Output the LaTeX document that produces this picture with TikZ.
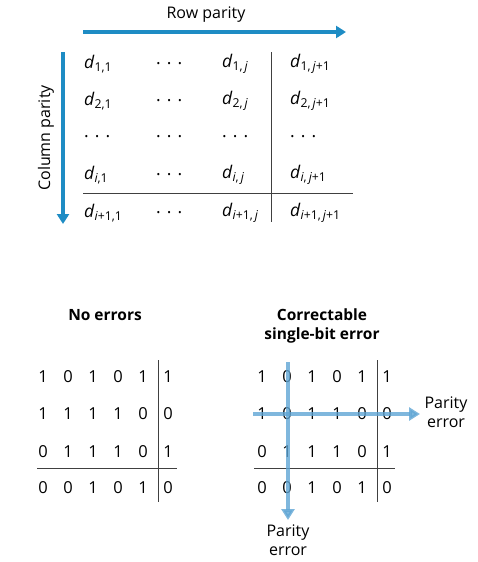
\documentclass[tikz,border=0pt]{standalone}
\usepackage{fontspec}
\setmainfont{Open Sans}
\usetikzlibrary{arrows.meta}
\definecolor{parityblue}{RGB}{30,140,196}
\definecolor{errorblue}{RGB}{95,165,212}
\newcommand{\dd}[1]{\textit{d}\textsubscript{#1}}
\tikzset{
	cell/.style={font=\fontsize{17.5}{20}\selectfont, anchor=west, inner sep=0pt},
	bit/.style={font=\fontsize{16.5}{18}\selectfont},
	caption/.style={font=\bfseries\fontsize{15.5}{19}\selectfont, align=center},
	label/.style={font=\fontsize{16}{19}\selectfont, align=center},
	gridline/.style={line width=0.8pt, color=black!75},
	parityarrow/.style={line width=4pt, color=parityblue, -{Triangle[length=10pt,width=12pt]}},
	errorarrow/.style={line width=4.5pt, color=errorblue, opacity=0.8, -{Triangle[length=11pt,width=13pt]}}
}

\begin{document}
\begin{tikzpicture}[x=1pt, y=-1pt]
		%%%%% START %%%%%
		\useasboundingbox (0, 0) rectangle (477, 562);
		
		% general scheme
		\node[label] (rowtxt) at (206, 15) {Row parity};
		\coordinate (rowA) at (83, 32);
		\coordinate (rowB) at (346, 32);
		\draw[parityarrow] (rowA) -- (rowB);
		
		\node[label, rotate=90] (coltxt) at (46, 138) {Column parity};
		\coordinate (colA) at (63, 52);
		\coordinate (colB) at (63, 224);
		\draw[parityarrow] (colA) -- (colB);
		
		\node[cell] (d11) at (84, 64) {\dd{1,1}};
		\node[cell] (d12) at (156, 64) {. . .};
		\node[cell] (d1j) at (222, 64) {\dd{1,\,\textit{j}}};
		\node[cell] (d1p) at (290, 64) {\dd{1,\,\textit{j}+1}};
		
		\node[cell] (d21) at (84, 101) {\dd{2,1}};
		\node[cell] (d22) at (156, 101) {. . .};
		\node[cell] (d2j) at (222, 101) {\dd{2,\,\textit{j}}};
		\node[cell] (d2p) at (290, 101) {\dd{2,\,\textit{j}+1}};
		
		\node[cell] (d31) at (84, 137) {. . .};
		\node[cell] (d32) at (156, 137) {. . .};
		\node[cell] (d3j) at (222, 137) {. . .};
		\node[cell] (d3p) at (290, 137) {. . .};
		
		\node[cell] (di1) at (84, 175) {\dd{\textit{i},1}};
		\node[cell] (di2) at (156, 175) {. . .};
		\node[cell] (dij) at (222, 175) {\dd{\textit{i},\,\textit{j}}};
		\node[cell] (dip) at (290, 175) {\dd{\textit{i},\,\textit{j}+1}};
		
		\node[cell] (dq1) at (84, 213) {\dd{\textit{i}+1,1}};
		\node[cell] (dq2) at (156, 213) {. . .};
		\node[cell] (dqj) at (222, 213) {\dd{\textit{i}+1,\,\textit{j}}};
		\node[cell] (dqp) at (290, 213) {\dd{\textit{i}+1,\,\textit{j}+1}};
		
		\draw[gridline] (271, 52) -- (271, 222);
		\draw[gridline] (83, 193) -- (353, 193);
		
		% no errors
		\node[caption] (noerr) at (105, 315) {No errors};
		\foreach \y/\row in {377/{1,0,1,0,1,1}, 414/{1,1,1,1,0,0}, 452/{0,1,1,1,0,1}, 488/{0,0,1,0,1,0}} {
			\foreach \b [count=\c] in \row {
				\node[bit] at (18+25*\c, \y) {\b};
			}
		}
		\draw[gridline] (158, 360) -- (158, 502);
		\draw[gridline] (37, 468) -- (177, 468);
		
		% correctable single-bit error
		\node[caption] (onebit) at (322, 326) {Correctable\\single-bit error};
		\foreach \y/\row in {377/{1,0,1,0,1,1}, 414/{1,0,1,1,0,0}, 452/{0,1,1,1,0,1}, 488/{0,0,1,0,1,0}} {
			\foreach \b [count=\c] in \row {
				\node[bit] at (237+25*\c, \y) {\b};
			}
		}
		\draw[gridline] (377, 360) -- (377, 502);
		\draw[gridline] (254, 468) -- (395, 468);
		
		\node[label] (rowerr) at (446, 412) {Parity\\error};
		\node[label] (colerr) at (288, 540) {Parity\\error};
		\coordinate (errA) at (253, 414);
		\coordinate (errB) at (420, 414);
		\coordinate (errC) at (288, 362);
		\coordinate (errD) at (288, 520);
		\draw[errorarrow] (errA) -- (errB);
		\draw[errorarrow] (errC) -- (errD);
		%%%%% END %%%%%
	\end{tikzpicture}
\end{document}
